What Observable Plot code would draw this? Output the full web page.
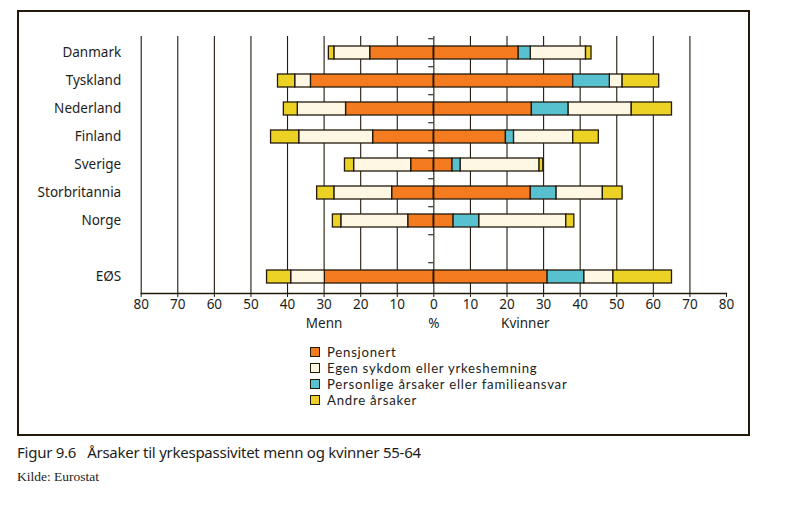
<!DOCTYPE html>
<html>
<head>
<meta charset="utf-8">
<script src="https://cdn.jsdelivr.net/npm/d3@7"></script>
<script src="https://cdn.jsdelivr.net/npm/@observablehq/plot@0.6"></script>
<style>
  body { margin: 0; background: #fff; }
  #wrap { position: relative; width: 801px; height: 524px; font-family: "Noto Sans", sans-serif; color: #1d1d1b; }
  #frame { position: absolute; left: 17px; top: 10px; width: 733px; height: 426px; box-sizing: border-box; border: 2px solid #231a0c; pointer-events: none; }
  #chart { position: absolute; left: 0; top: 0; }
  #legend { position: absolute; left: 310px; top: 344px; font-family: Lato, "Noto Sans", sans-serif; font-size: 13.2px; letter-spacing: 0.75px; line-height: 16px; }
  #legend .row { display: flex; align-items: center; height: 16px; }
  #legend .sw { width: 10px; height: 10px; box-sizing: border-box; border: 1.3px solid #231a0c; margin-right: 7px; }
  #caption { position: absolute; left: 17px; top: 442px; font-size: 15px; letter-spacing: -0.25px; white-space: pre; }
  #source { position: absolute; left: 17px; top: 469px; font-family: "Liberation Serif", serif; font-size: 13.5px; }
</style>
</head>
<body>
<div id="wrap">
  <div id="chart"></div>
  <div id="legend"></div>
  <div id="caption"></div>
  <div id="source"></div>
  <div id="frame"></div>
</div>
<script>
// ---- data ----
const countries = ["Danmark", "Tyskland", "Nederland", "Finland", "Sverige", "Storbritannia", "Norge", "EØS"];
const causes = ["Pensjonert", "Egen sykdom eller yrkeshemning", "Personlige årsaker eller familieansvar", "Andre årsaker"];
const causeColors = ["#f47b20", "#fef7e4", "#58c1d0", "#ebd224"];
// stacking order outward from zero
const stackOrder = ["Pensjonert", "Personlige årsaker eller familieansvar", "Egen sykdom eller yrkeshemning", "Andre årsaker"];

const pensjonertMenn = [17.4, 33.6, 24.0, 16.6, 6.2, 11.4, 7.0, 29.8];
const sykdomMenn     = [9.8, 4.3, 13.2, 20.2, 15.6, 15.8, 18.3, 9.2];
const personligMenn  = [0, 0, 0, 0, 0, 0, 0, 0];
const andreMenn      = [1.5, 4.7, 3.8, 7.7, 2.5, 4.7, 2.3, 6.6];

const pensjonertKvinner = [23.2, 38.1, 26.8, 19.7, 5.1, 26.5, 5.4, 31.1];
const sykdomKvinner     = [15.1, 3.5, 17.3, 16.2, 21.6, 12.7, 23.8, 8.0];
const personligKvinner  = [3.3, 10.0, 10.0, 2.2, 2.2, 7.0, 7.0, 10.0];
const andreKvinner      = [1.5, 10.0, 11.0, 7.0, 1.0, 5.4, 2.2, 16.0];

const xTicks = [-80, -70, -60, -50, -40, -30, -20, -10, 0, 10, 20, 30, 40, 50, 60, 70, 80];
const gridTicks = [-80, -70, -60, -50, -40, -30, -20, -10, 10, 20, 30, 40, 50, 60, 70];
const sideLabels = [{text: "Menn", x: -30}, {text: "%", x: 0}, {text: "Kvinner", x: 25}];
const captionText = "Figur 9.6   Årsaker til yrkespassivitet menn og kvinner 55-64";
const sourceText = "Kilde: Eurostat";

// ---- build table ----
const spacer = " ";
const yDomain = [...countries.slice(0, 7), spacer, countries[7]];
const menSeries = [pensjonertMenn, sykdomMenn, personligMenn, andreMenn];
const womenSeries = [pensjonertKvinner, sykdomKvinner, personligKvinner, andreKvinner];
const rows = [];
countries.forEach((c, i) => {
  causes.forEach((cause, k) => {
    if (menSeries[k][i] > 0) rows.push({country: c, cause, value: -menSeries[k][i]});
    if (womenSeries[k][i] > 0) rows.push({country: c, cause, value: womenSeries[k][i]});
  });
});

const W = 801, H = 340, mTop = 36, mBottom = 47;
const step = (H - mTop - mBottom) / yDomain.length;
const ink = "#231a0c";

const chart = Plot.plot({
  width: W,
  height: H,
  marginLeft: 140.7,
  marginRight: 75,
  marginTop: mTop,
  marginBottom: mBottom,
  style: {fontFamily: "Noto Sans, sans-serif", fontSize: "13.5px", color: "#1d1d1b", background: "transparent"},
  x: {domain: [-80, 80]},
  y: {domain: yDomain, paddingInner: 0.53, paddingOuter: 0.265},
  color: {domain: causes, range: causeColors},
  marks: [
    Plot.ruleX(gridTicks, {stroke: ink, strokeWidth: 1.1}),
    Plot.barX(rows, Plot.stackX({
      y: "country", x: "value", fill: "cause", z: "cause",
      order: stackOrder,
      stroke: ink, strokeWidth: 1.3
    })),
    Plot.ruleX([0], {stroke: ink, strokeWidth: 1.1}),
    Plot.ruleY(yDomain, {y: d => d, x1: -1.4, x2: 0, dy: -step / 2, stroke: ink, strokeWidth: 1.1}),
    Plot.frame({anchor: "bottom", stroke: ink, strokeWidth: 1.3}),
    Plot.axisX({ticks: xTicks, tickFormat: d => Math.abs(d), tickSize: 4, tickPadding: 2, label: null, stroke: ink, fontSize: 13.5}),
    Plot.axisY({tickSize: 0, tickPadding: 20, label: null, tickFormat: d => d, fontSize: 13.5}),
    Plot.text(sideLabels, {x: "x", text: "text", frameAnchor: "bottom", dy: 34, fontSize: 13.5})
  ]
});
document.getElementById("chart").appendChild(chart);

// legend
const legend = document.getElementById("legend");
causes.forEach((c, i) => {
  const row = document.createElement("div");
  row.className = "row";
  const sw = document.createElement("div");
  sw.className = "sw";
  sw.style.background = causeColors[i];
  const t = document.createElement("span");
  t.textContent = c;
  row.appendChild(sw);
  row.appendChild(t);
  legend.appendChild(row);
});
document.getElementById("caption").textContent = captionText;
document.getElementById("source").textContent = sourceText;
</script>
</body>
</html>
